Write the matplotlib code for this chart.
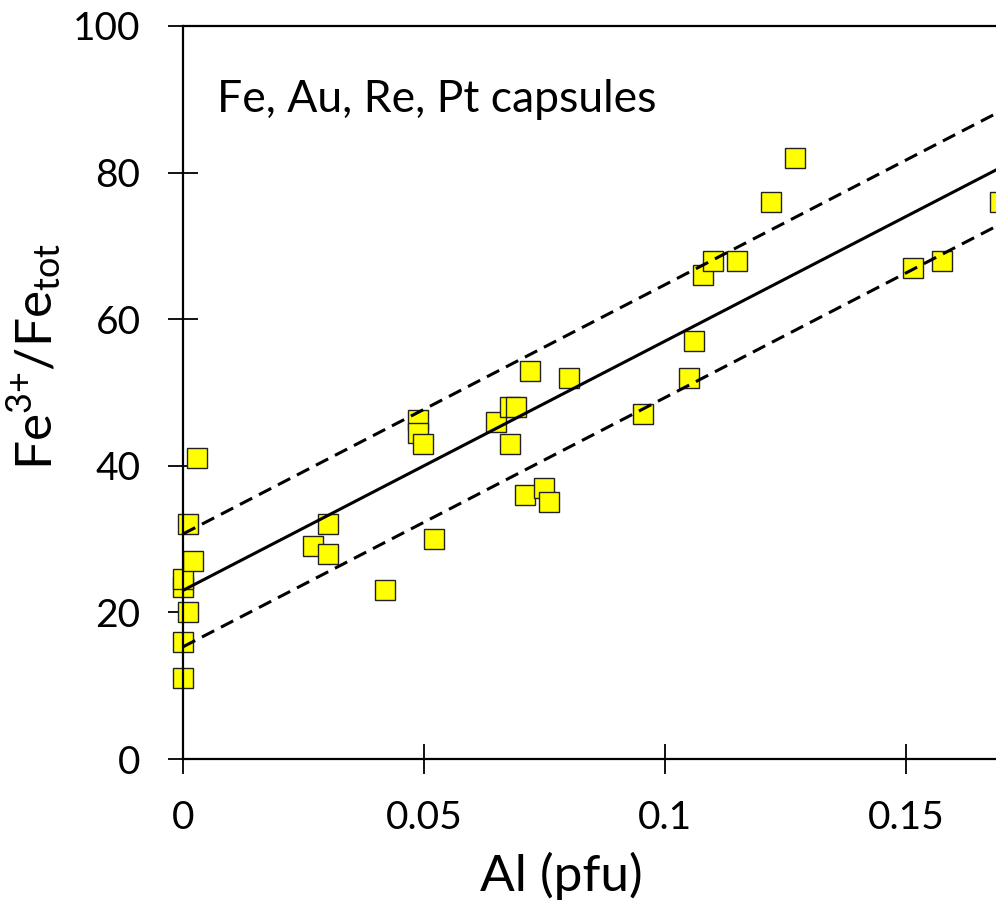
import matplotlib
matplotlib.use("Agg")
import numpy as np
import matplotlib.pyplot as plt

# Al (pfu) vs Fe3+/Fe_tot
al_pfu = [0.000, 0.000, 0.001, 0.000, 0.000, 0.002, 0.001, 0.003,
          0.027, 0.030, 0.030, 0.042, 0.0488, 0.0488, 0.0498, 0.052,
          0.065, 0.0678, 0.069, 0.0678, 0.072, 0.080, 0.071, 0.075, 0.076,
          0.0955, 0.105, 0.106, 0.108, 0.110, 0.115, 0.122, 0.127,
          0.1515, 0.1575, 0.1695]
fe3_ratio = [11, 16, 20, 23.5, 24.5, 27, 32, 41,
             29, 32, 28, 23, 46.2, 44.5, 43, 30,
             46, 48, 48, 43, 53, 52, 36, 37, 35,
             47, 52, 57, 66, 68, 68, 76, 82,
             67, 68, 76]

# regression line and +/- band
fit_slope = 340.0
fit_intercept = 23.0
fit_band = 7.7

xticks = [0, 0.05, 0.1, 0.15]
xtick_labels = ["0", "0.05", "0.1", "0.15"]
yticks = [0, 20, 40, 60, 80, 100]

plt.rcParams["font.family"] = ["Lato", "DejaVu Sans"]
plt.rcParams["mathtext.fontset"] = "custom"
plt.rcParams["mathtext.rm"] = "Lato"

fig = plt.figure(figsize=(9.96, 9.18), dpi=100)
ax = fig.add_axes([0.1837, 0.1732, 1.0 - 0.1837, 0.9717 - 0.1732])

# squares sit on the y axis unclipped, like the original
ax.plot(al_pfu, fe3_ratio, linestyle="none", marker="s", markersize=15,
        markerfacecolor="#ffff00", markeredgecolor="#222222",
        markeredgewidth=1.0, zorder=2, clip_on=False)

xs = np.array([0.0, 0.2])
ax.plot(xs, fit_intercept + fit_slope * xs, color="black", lw=2.2, zorder=3)
for off in (fit_band, -fit_band):
    ax.plot(xs, fit_intercept + off + fit_slope * xs, color="black", lw=2.2,
            dashes=(4.5, 2.5), zorder=3)

ax.set_xlim(0, 0.1687)
ax.set_ylim(0, 100)
ax.set_xticks(xticks)
ax.set_xticklabels(xtick_labels)
ax.set_yticks(yticks)
ax.spines["right"].set_visible(False)
for s in ("left", "bottom", "top"):
    ax.spines[s].set_linewidth(1.6)
ax.tick_params(direction="inout", length=21, width=1.3, labelsize=28,
               top=False, right=False)
ax.tick_params(axis="y", pad=20)
ax.tick_params(axis="x", pad=19)

ax.text(0.007, 90, "Fe, Au, Re, Pt capsules", fontsize=32, va="center",
        ha="left")

ax.set_xlabel("Al (pfu)", fontsize=37)
ax.xaxis.set_label_coords(0.465, -0.126)
# braces keep mathtext from spacing the "+" like an operator
ax.set_ylabel(r"Fe$^{3{+}}$/Fe$_{\mathrm{tot}}$", fontsize=37)
ax.yaxis.set_label_coords(-0.146, 0.55)

fig.savefig("out.png", dpi=100)
